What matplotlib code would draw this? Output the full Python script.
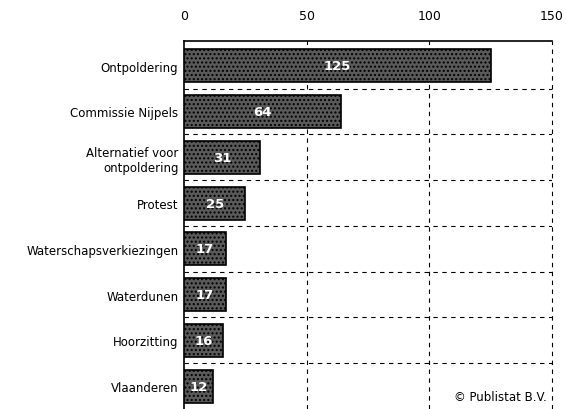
import matplotlib
matplotlib.use("Agg")
import matplotlib.pyplot as plt
import numpy as np

categories = ["Ontpoldering", "Commissie Nijpels", "Alternatief voor\nontpoldering",
              "Protest", "Waterschapsverkiezingen", "Waterdunen", "Hoorzitting", "Vlaanderen"]
values = [125, 64, 31, 25, 17, 17, 16, 12]
xticks = [0, 50, 100, 150]

fig = plt.figure(figsize=(5.66, 4.10), dpi=100)
ax = fig.add_axes([184/566, 0.0, (552-184)/566, (410-42)/410])

y = np.arange(len(categories))
ax.barh(y, values, height=0.72, color="#5a5a5a", edgecolor="black", linewidth=1.2,
        hatch="....", zorder=3)
for yi, v in zip(y, values):
    ax.text(v/2, yi, str(v), ha="center", va="center", color="white",
            fontsize=9.5, fontweight="bold", zorder=4)

ax.set_xlim(0, 150)
ax.set_ylim(len(categories) - 0.5, -0.54)
ax.xaxis.tick_top()
ax.set_xticks(xticks)
ax.set_xticklabels([str(t) for t in xticks], fontsize=9)
ax.tick_params(axis="x", length=0, pad=14)
ax.set_yticks(y)
ax.set_yticklabels(categories, fontsize=8.5)
ax.tick_params(axis="y", length=0, pad=4)

for xv in xticks[1:]:
    ax.axvline(xv, color="black", linestyle=(0, (4, 4)), linewidth=0.8, zorder=1,
               clip_on=False)
for yb in np.arange(0.5, len(categories) - 0.5, 1.0):
    ax.axhline(yb, color="black", linestyle=(0, (4, 4)), linewidth=0.8, zorder=1)

for side in ["right", "bottom"]:
    ax.spines[side].set_visible(False)
ax.spines["top"].set_linewidth(1.2)
ax.spines["left"].set_linewidth(1.2)

ax.text(0.985, 0.035, "© Publistat B.V.", transform=ax.transAxes, ha="right",
        va="center", fontsize=8.5)

fig.savefig("out.png", dpi=100)
